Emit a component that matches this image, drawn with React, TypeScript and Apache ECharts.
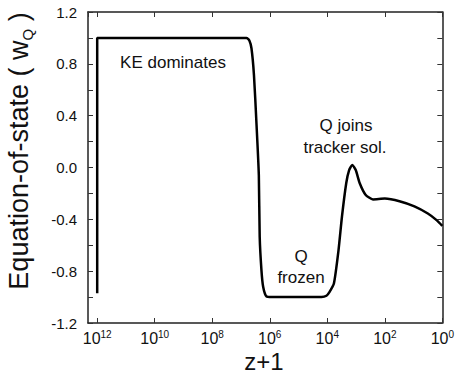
import React, { useEffect, useRef } from "react";
import * as echarts from "echarts";

// log10(z+1) values (x) and equation-of-state values (y)
const logZ = [
  12.0, 12.0, 7.04, 6.81, 6.71, 6.636, 6.55, 6.46, 6.38, 6.35, 6.29, 6.23, 6.115, 5.93,
  4.2, 4.03, 3.92, 3.77, 3.61, 3.49, 3.34, 3.24, 3.13, 3.01, 2.875, 2.67, 2.41, 2.0,
  1.49, 0.97, 0.504, 0.2, 0.0,
];
const wQ = [
  -0.97, 1.0, 1.0, 1.0, 0.98, 0.92, 0.715, 0.33, -0.06, -0.535, -0.79, -0.92, -0.995, -1.0,
  -1.0, -0.99, -0.96, -0.896, -0.64, -0.38, -0.12, -0.02, 0.02, -0.02, -0.12, -0.21, -0.246, -0.24,
  -0.26, -0.3, -0.355, -0.406, -0.45,
];
const xTickExponents = [12, 10, 8, 6, 4, 2, 0];
const yLabels = ["-1.2", "-0.8", "-0.4", "0.0", "0.4", "0.8", "1.2"];
const annotations = [
  { text: "KE dominates", x: 173, y: 62 },
  { text: "Q joins", x: 346, y: 125 },
  { text: "tracker sol.", x: 345, y: 147 },
  { text: "Q", x: 301, y: 256 },
  { text: "frozen", x: 301, y: 277 },
];

const FONT = "'Liberation Sans', Arial, Helvetica, sans-serif";
const INK = "#111";

export default function App() {
  const ref = useRef<HTMLDivElement>(null);
  useEffect(() => {
    if (!ref.current) return;
    const chart = echarts.init(ref.current, undefined, { renderer: "svg" });
    const axisLine = { show: true, onZero: false, lineStyle: { color: "#222", width: 1.5 } };
    const xBase = {
      type: "value" as const,
      inverse: true,
      min: 0,
      max: 12.32,
      interval: 2,
      axisLine,
      axisTick: { show: true, inside: true, length: 5, lineStyle: { color: "#333", width: 1 } },
      splitLine: { show: false },
    };
    const yBase = {
      type: "value" as const,
      min: -1.2,
      max: 1.2,
      interval: 0.2,
      axisLine,
      axisTick: { show: true, inside: true, length: 5, lineStyle: { color: "#333", width: 1 } },
      splitLine: { show: false },
    };
    chart.setOption({
      animation: false,
      backgroundColor: "#fff",
      grid: { left: 88, top: 12, right: 14, bottom: 64, containLabel: false },
      xAxis: [
        {
          ...xBase,
          position: "bottom",
          axisLabel: {
            margin: 6,
            fontSize: 16,
            fontFamily: FONT,
            color: INK,
            showMaxLabel: false,
            formatter: (v: number) => {
              const n = Math.round(v);
              if (Math.abs(v - n) > 1e-6 || !xTickExponents.includes(n)) return "";
              return `{b|10}{s|${n}}`;
            },
            rich: {
              b: { fontSize: 16, fontFamily: FONT, color: INK, lineHeight: 19 },
              s: { fontSize: 10, fontFamily: FONT, color: INK, verticalAlign: "top", lineHeight: 11 },
            },
          },
        },
        { ...xBase, position: "top", axisLabel: { show: false } },
      ],
      yAxis: [
        {
          ...yBase,
          position: "left",
          axisLabel: {
            margin: 11,
            interval: 1,
            fontSize: 15,
            fontFamily: FONT,
            color: INK,
            formatter: (v: number) => {
              const s = (Math.abs(v) < 1e-9 ? 0 : v).toFixed(1);
              return yLabels.includes(s) ? s : "";
            },
          },
        },
        { ...yBase, position: "right", axisLabel: { show: false } },
      ],
      series: [
        {
          type: "line",
          data: logZ.map((x, i) => [x, wQ[i]]),
          showSymbol: false,
          smooth: 0.2,
          lineStyle: { color: "#000", width: 2.5 },
        },
      ],
      graphic: [
        {
          type: "text",
          x: 19,
          y: 151,
          rotation: Math.PI / 2,
          style: {
            text: "{a|Equation-of-state ( w}{q|Q}{a| )}",
            align: "center",
            verticalAlign: "middle",
            rich: {
              a: { fontSize: 27, fontFamily: FONT, fill: INK, lineHeight: 32 },
              q: { fontSize: 15, fontFamily: FONT, fill: INK, verticalAlign: "bottom" },
            },
          },
        },
        {
          type: "text",
          x: 264,
          y: 361,
          style: { text: "z+1", fontSize: 24, fontFamily: FONT, fill: INK, align: "center", verticalAlign: "middle" },
        },
        ...annotations.map((a) => ({
          type: "text",
          x: a.x,
          y: a.y,
          style: { text: a.text, fontSize: 17, fontFamily: FONT, fill: INK, align: "center", verticalAlign: "middle" },
        })),
      ],
    });
    return () => chart.dispose();
  }, []);
  return <div ref={ref} style={{ position: "fixed", left: 0, top: 0, width: 457, height: 387 }} />;
}
